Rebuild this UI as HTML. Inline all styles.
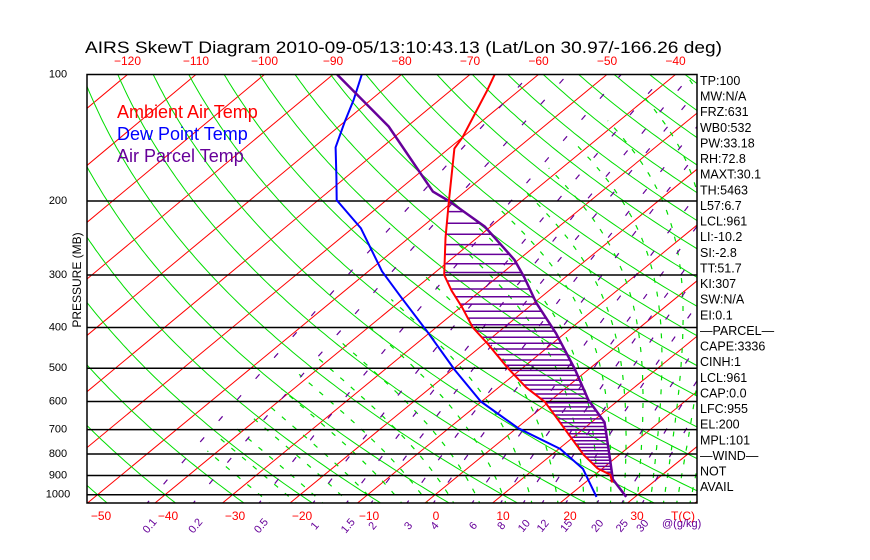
<!DOCTYPE html>
<html><head><meta charset="utf-8">
<style>
html,body{margin:0;padding:0;background:#fff;}
svg{display:block;font-family:"Liberation Sans",sans-serif;}
</style></head>
<body>
<svg id="chart" width="870" height="560" viewBox="0 0 870 560" xmlns="http://www.w3.org/2000/svg">
<defs><clipPath id="plotclip"><rect x="87" y="74.5" width="610" height="428.5"/></clipPath></defs>
<rect width="870" height="560" fill="#fff"/>
<text x="85" y="53" font-size="17" textLength="637" lengthAdjust="spacingAndGlyphs" fill="#000">AIRS SkewT Diagram 2010-09-05/13:10:43.13 (Lat/Lon 30.97/-166.26 deg)</text>
<g id="plot" clip-path="url(#plotclip)"></g>
<rect x="87" y="74.5" width="610" height="428.5" fill="none" stroke="#000" stroke-width="1.5"/>
<text transform="translate(81,280) rotate(-90)" text-anchor="middle" font-size="12" fill="#000">PRESSURE (MB)</text>
<text x="117" y="118" font-size="18" fill="#ff0000">Ambient Air Temp</text>
<text x="117" y="140" font-size="18" fill="#0000ff">Dew Point Temp</text>
<text x="117" y="162" font-size="18" fill="#660099">Air Parcel Temp</text>
<g id="labels"></g>
</svg>
<script>
const tempP=[100,109,141,150,200,245,300,327,358,400,434,500,556,601,672,736,803,866,896,935];
const tempT=[-66.4,-64.7,-60.0,-59.2,-50.7,-44.6,-38.2,-34.3,-29.8,-24.6,-19.9,-12.1,-5.9,-0.6,5.3,10.1,14.7,19.3,22.3,24.0];
const dewP=[100,115,130,149,175,199,232,294,338,412,505,600,695,778,868,1012];
const dewT=[-85.8,-82.5,-79.9,-76.8,-71.5,-67.3,-58.8,-48.0,-40.7,-30.2,-19.6,-10.1,0.3,10.2,17.2,24.3];
const parcelP=[100,133,190,200,230,276,304,350,413,502,595,672,777,882,919,1012];
const parcelT=[-89.4,-72.7,-54.7,-50.7,-40.9,-30.6,-26.0,-19.6,-11.3,-2.1,5.5,11.9,17.3,22.0,23.5,28.7];
const pressureLevels=[200,300,400,500,600,700,800,900,1000];
const pressureLabels=["100","200","300","400","500","600","700","800","900","1000"];
const bottomTempTicks=[-50,-40,-30,-20,-10,0,10,20,30];
const topTempTicks=[-120,-110,-100,-90,-80,-70,-60,-50,-40];
const mixRatios=[0.1,0.2,0.5,1,1.5,2,3,4,6,8,10,12,15,20,25,30];
const indexLabels=["TP:100","MW:N/A","FRZ:631","WB0:532","PW:33.18","RH:72.8","MAXT:30.1","TH:5463","L57:6.7","LCL:961","LI:-10.2","SI:-2.8","TT:51.7","KI:307","SW:N/A","EI:0.1","\u2014PARCEL\u2014","CAPE:3336","CINH:1","LCL:961","CAP:0.0","LFC:955","EL:200","MPL:101","\u2014WIND\u2014","NOT","AVAIL"];

const NS="http://www.w3.org/2000/svg";
function Y(p){return 74.5+182.5*Math.log(p/100);}
function X(T,p){const f=(503-Y(p))/428.5;return 425+6.75*T+(524.5+0.1*T)*f;}
function mk(tag,attrs,parent){const e=document.createElementNS(NS,tag);for(const k in attrs)e.setAttribute(k,attrs[k]);parent.appendChild(e);return e;}
const plot=document.getElementById('plot');
const labels=document.getElementById('labels');
function pathFrom(pts){return pts.map((q,i)=>(i?'L':'M')+q[0].toFixed(1)+','+q[1].toFixed(1)).join('');}
const pGrid=[];for(let lp=Math.log(1060);lp>=Math.log(95);lp-=0.02)pGrid.push(Math.exp(lp));

for(let T=-180;T<=40;T+=10){
  const e=mk('path',{d:pathFrom([[X(T,1060),Y(1060)],[X(T,95),Y(95)]]),stroke:'#ff0000','stroke-width':1,fill:'none'},plot);
  
  
}
for(let th=-50;th<=200;th+=10){
  const pts=pGrid.map(p=>[X((th+273.15)*Math.pow(p/1000,0.286)-273.15,p),Y(p)]);
  const e=mk('path',{d:pathFrom(pts),stroke:'#00dd00','stroke-width':1,fill:'none'},plot);
  
  
}
function rs(T,p){const es=6.112*Math.exp(17.67*(T-273.15)/(T-29.65));return 0.622*es/(p-es);}
function dTdl(T,p){const r=rs(T,p);return (287*T+2.5e6*r)/(1005+2.5e6*2.5e6*r*0.622/(287*T*T));}
for(let tw=-26;tw<=44;tw+=(tw>=22?2:4)){
  const up=[],dn=[];
  let T=tw+273.15,lp=Math.log(1000);
  while(lp>Math.log(95)&&T>231){up.push([X(T-273.15,Math.exp(lp)),Y(Math.exp(lp))]);T-=dTdl(T,Math.exp(lp))*0.01;lp-=0.01;}
  T=tw+273.15;lp=Math.log(1000);
  while(lp<Math.log(1065)){dn.push([X(T-273.15,Math.exp(lp)),Y(Math.exp(lp))]);T+=dTdl(T,Math.exp(lp))*0.01;lp+=0.01;}
  const pts=dn.reverse().concat(up);
  if(pts.length<2)continue;
  const e=mk('path',{d:pathFrom(pts),stroke:'#00dd00','stroke-width':1.2,fill:'none','stroke-dasharray':'5 9'},plot);
  
  
}
function Tfromw(w,p){const e=w*p/(622+w);const l=Math.log(e/6.112);return 243.5*l/(17.67-l);}
mixRatios.forEach(w=>{
  const pts=pGrid.map(p=>[X(Tfromw(w,p),p),Y(p)]);
  const e=mk('path',{d:pathFrom(pts),stroke:'#660099','stroke-width':1.2,fill:'none','stroke-dasharray':'6 22'},plot);
  
  
});
pressureLevels.forEach(p=>{
  const e=mk('line',{x1:87,x2:697,y1:Y(p),y2:Y(p),stroke:'#000','stroke-width':1.5},plot);
  
  
});
function interp(P,T,p){for(let i=0;i<P.length-1;i++){if(p>=P[i]&&p<=P[i+1]){const a=(Math.log(p)-Math.log(P[i]))/(Math.log(P[i+1])-Math.log(P[i]));return T[i]+a*(T[i+1]-T[i]);}}return null;}
for(let p=212;p<=920;p+=14){
  const tr=interp(tempP,tempT,p),tp=interp(parcelP,parcelT,p);
  if(tr===null||tp===null||tp<=tr)continue;
  const e=mk('line',{x1:X(tr,p),x2:X(tp,p),y1:Y(p),y2:Y(p),stroke:'#660099','stroke-width':1.5},plot);
  
  
}
function profile(P,T,color,name,w){
  const e=mk('path',{d:pathFrom(P.map((p,i)=>[X(T[i],p),Y(p)])),stroke:color,'stroke-width':w,fill:'none','stroke-linejoin':'round'},plot);
  
  
}
profile(dewP,dewT,'#0000ff','dewpoint-line',2);
profile(parcelP,parcelT,'#660099','parcel-line',2.5);
profile(tempP,tempT,'#ff0000','temperature-line',2);

[100].concat(pressureLevels).forEach((p,i)=>{
  const e=mk('text',{x:58,y:Y(p)+3,'text-anchor':'middle','font-size':11,fill:'#000'},labels);
  e.textContent=pressureLabels[i];
  
  
});
bottomTempTicks.forEach(T=>{
  const e=mk('text',{x:436+6.7*T,y:520,'text-anchor':'middle','font-size':12,fill:'#ff0000'},labels);
  e.textContent=T<0?'\u2212'+(-T):String(T);
  
  
});
{const e=mk('text',{x:683,y:520,'text-anchor':'middle','font-size':12,fill:'#ff0000'},labels);e.textContent='T(C)';

}
topTempTicks.forEach(T=>{
  const e=mk('text',{x:333+6.85*(T+90),y:65,'text-anchor':'middle','font-size':12,fill:'#ff0000'},labels);
  e.textContent='\u2212'+(-T);
  
  
});
mixRatios.forEach(w=>{
  const x=X(Tfromw(w,1000),1000)-2;
  const e=mk('text',{x:0,y:0,'text-anchor':'middle','font-size':11,fill:'#660099',transform:'translate('+x.toFixed(1)+',528) rotate(-50)'},labels);
  e.textContent=String(w);
  
  
});
{const e=mk('text',{x:662,y:527,'font-size':11,fill:'#660099'},labels);e.textContent='@(g/kg)';

}
indexLabels.forEach((s,i)=>{
  const e=mk('text',{x:700,y:85+i*15.62,'font-size':12.5,fill:'#000'},labels);
  e.textContent=s;
  
  
});
</script>
</body></html>
